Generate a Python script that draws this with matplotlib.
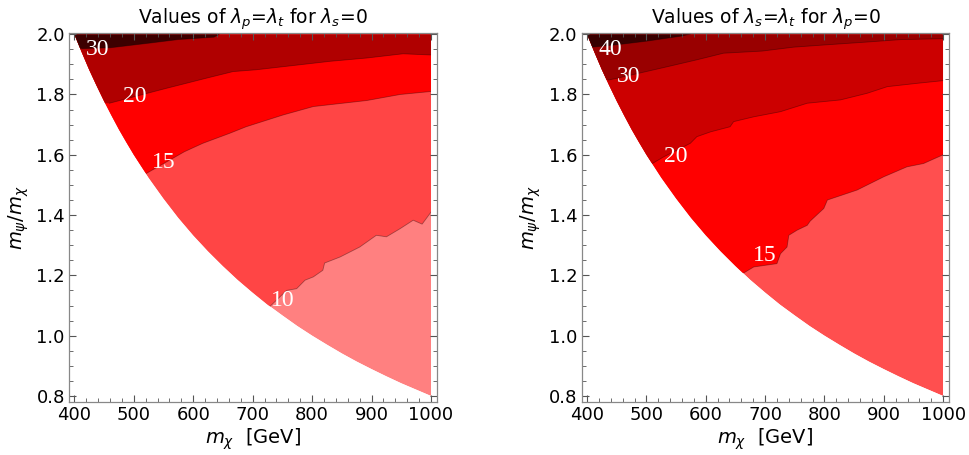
import numpy as np
import matplotlib
matplotlib.use("Agg")
import matplotlib.pyplot as plt
from matplotlib.patches import Polygon
from matplotlib.ticker import MultipleLocator

# excluded region edge (m_psi = 800 GeV)
bnd_x = [400, 412, 425, 437, 450, 462, 475, 487, 500, 525, 550, 575, 600, 625, 650, 675,
         700, 725, 750, 775, 800, 825, 850, 875, 900, 925, 950, 975, 1000]
bnd_y = [2.0, 1.942, 1.882, 1.831, 1.778, 1.732, 1.684, 1.643, 1.60, 1.524, 1.455, 1.391,
         1.333, 1.28, 1.231, 1.185, 1.143, 1.103, 1.067, 1.032, 1.0, 0.97, 0.941, 0.914,
         0.889, 0.865, 0.842, 0.821, 0.80]

# left panel: lambda_p = lambda_t, lambda_s = 0
left_levels = [10, 15, 20, 30]
left_colors = ['#FF8080', '#FF4545', '#FF0000', '#B00000', '#3D0000']
left_c10_x = [729, 757, 774, 788, 802, 818, 821, 847, 880, 908, 925, 948, 970, 985, 1000]
left_c10_y = [1.097, 1.15, 1.156, 1.184, 1.195, 1.217, 1.241, 1.261, 1.294, 1.333, 1.328, 1.355, 1.383, 1.37, 1.41]
left_c15_x = [521, 585, 616, 661, 689, 751, 802, 892, 948, 1000]
left_c15_y = [1.538, 1.61, 1.638, 1.671, 1.693, 1.732, 1.76, 1.78, 1.80, 1.81]
left_c20_x = [459, 554, 622, 667, 706, 768, 830, 892, 953, 1000]
left_c20_y = [1.771, 1.82, 1.854, 1.876, 1.882, 1.896, 1.91, 1.921, 1.935, 1.931]
left_c30_x = [413, 461, 529, 574, 635, 644]
left_c30_y = [1.952, 1.955, 1.971, 1.982, 1.99, 2.0]
left_lab_x = [750, 550, 501, 439]
left_lab_y = [1.117, 1.573, 1.793, 1.95]

# right panel: lambda_s = lambda_t, lambda_p = 0
right_levels = [15, 20, 30, 40]
right_colors = ['#FF4F4F', '#FF0000', '#CC0000', '#990000', '#380000']
right_c15_x = [664, 681, 720, 726, 737, 740, 754, 771, 776, 799, 805, 855, 900, 939, 967, 1000]
right_c15_y = [1.208, 1.228, 1.239, 1.272, 1.294, 1.333, 1.35, 1.366, 1.38, 1.422, 1.45, 1.483, 1.527, 1.56, 1.571, 1.60]
right_c20_x = [510, 529, 574, 585, 608, 641, 647, 681, 726, 771, 827, 872, 906, 956, 1000]
right_c20_y = [1.571, 1.593, 1.638, 1.66, 1.676, 1.693, 1.71, 1.726, 1.743, 1.771, 1.782, 1.804, 1.826, 1.837, 1.846]
right_c30_x = [436, 451, 535, 585, 630, 695, 748, 805, 872, 928, 1000]
right_c30_y = [1.848, 1.854, 1.892, 1.915, 1.937, 1.944, 1.957, 1.965, 1.974, 1.982, 1.985]
right_c40_x = [408, 451, 501, 557, 574]
right_c40_y = [1.957, 1.965, 1.977, 1.993, 2.0]
right_lab_x = [700, 550, 470, 440]
right_lab_y = [1.267, 1.593, 1.861, 1.95]

plt.rcParams['xtick.direction'] = 'in'
plt.rcParams['ytick.direction'] = 'in'


def draw_panel(ax, title, contours, colors, levels, lab_x, lab_y):
    # allowed region, used to clip every band
    dom = list(zip(bnd_x, bnd_y)) + [(1000, 2.0)]
    clip = Polygon(dom, closed=True, transform=ax.transData)

    base = ax.fill(bnd_x + [1000], bnd_y + [2.0], color=colors[0], lw=0)[0]
    base.set_clip_path(clip)
    for (cx, cy), col in zip(contours, colors[1:]):
        # region above each contour, extended left past the edge
        px = [380] + cx + [cx[-1], 380]
        py = [cy[0]] + cy + [2.0, 2.0]
        band = ax.fill(px, py, color=col, lw=0)[0]
        band.set_clip_path(clip)
        ln, = ax.plot(cx, cy, color='black', lw=0.6, alpha=0.35)
        ln.set_clip_path(clip)

    for lv, x, y in zip(levels, lab_x, lab_y):
        ax.text(x, y, str(lv), color='white', fontsize=17, family='Liberation Serif',
                ha='center', va='center')

    ax.set_xlim(391, 1010)
    ax.set_ylim(0.781, 2.004)
    ax.xaxis.set_major_locator(MultipleLocator(100))
    ax.xaxis.set_minor_locator(MultipleLocator(20))
    ax.yaxis.set_major_locator(MultipleLocator(0.2))
    ax.yaxis.set_minor_locator(MultipleLocator(0.05))
    ax.yaxis.set_major_formatter(matplotlib.ticker.FormatStrFormatter('%.1f'))
    ax.tick_params(which='both', top=True, right=True, color='#555555', labelsize=13, pad=3)
    ax.tick_params(which='major', length=5, width=0.8)
    ax.tick_params(which='minor', length=3, width=0.6)
    for s in ax.spines.values():
        s.set_color('#888888')
        s.set_linewidth(0.9)
    ax.set_title(title, fontsize=13.5, pad=7)
    ax.set_xlabel(r'$m_\chi$  [GeV]', fontsize=14, labelpad=2)
    ax.set_ylabel(r'$m_\psi/m_\chi$', fontsize=14, labelpad=4)


fig = plt.figure(figsize=(9.7, 4.55), dpi=100)
ax1 = fig.add_axes([0.0711, 0.1171, 0.3794, 0.8104])
ax2 = fig.add_axes([0.5997, 0.1171, 0.3787, 0.8104])

draw_panel(ax1, r'Values of $\lambda_p$=$\lambda_t$ for $\lambda_s$=0',
           [(left_c10_x, left_c10_y), (left_c15_x, left_c15_y),
            (left_c20_x, left_c20_y), (left_c30_x, left_c30_y)],
           left_colors, left_levels, left_lab_x, left_lab_y)
draw_panel(ax2, r'Values of $\lambda_s$=$\lambda_t$ for $\lambda_p$=0',
           [(right_c15_x, right_c15_y), (right_c20_x, right_c20_y),
            (right_c30_x, right_c30_y), (right_c40_x, right_c40_y)],
           right_colors, right_levels, right_lab_x, right_lab_y)

fig.savefig('out.png', dpi=100)
